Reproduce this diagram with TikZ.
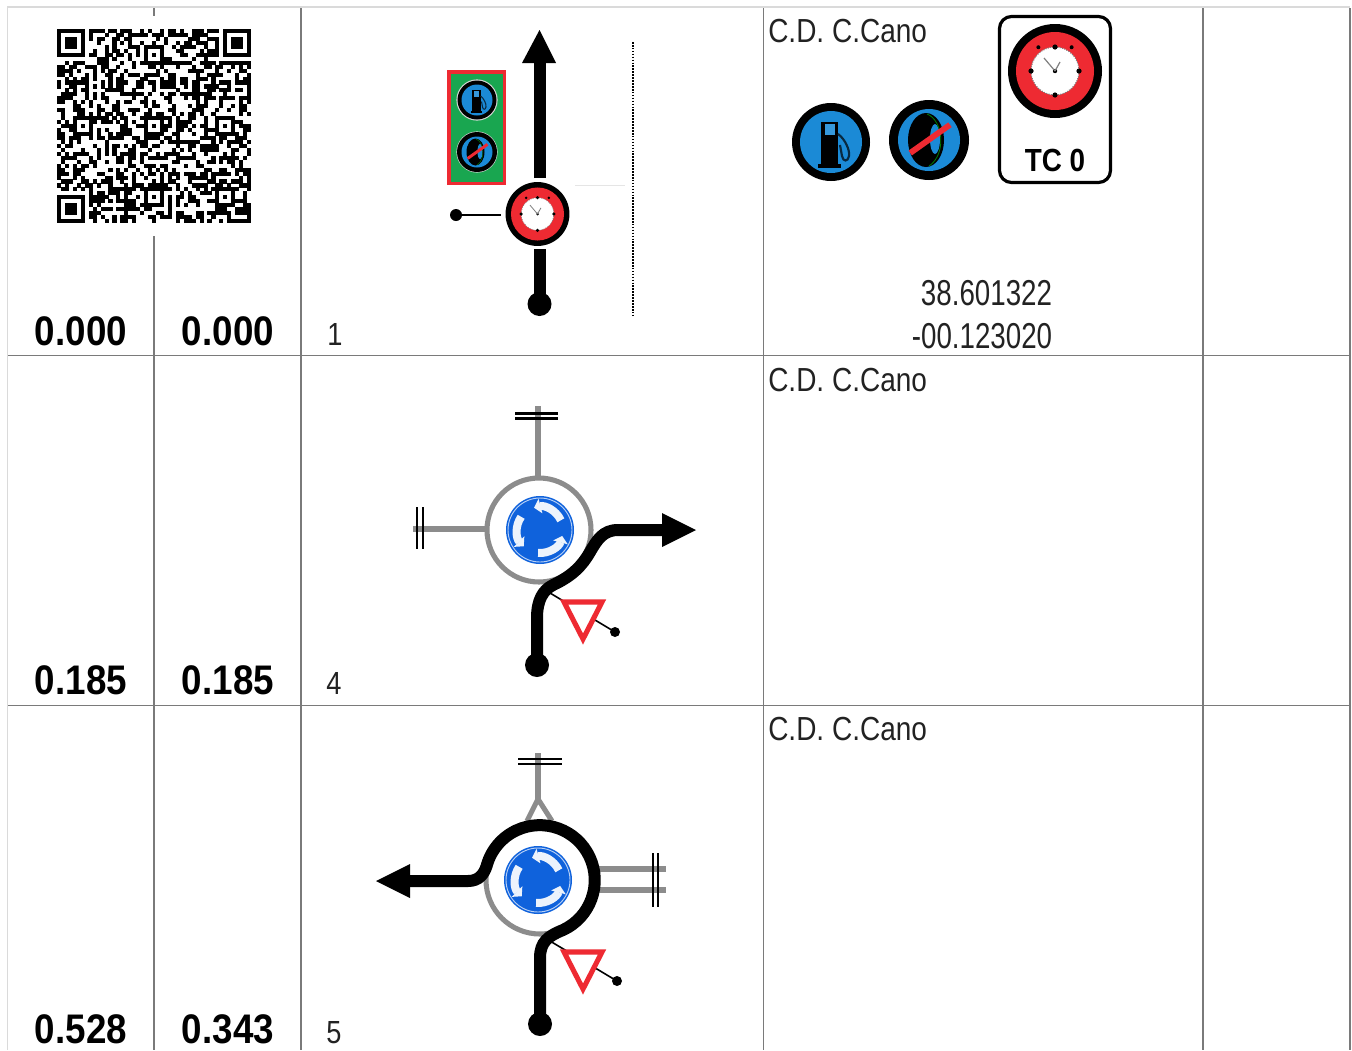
\documentclass[tikz,border=0pt]{standalone}
\usepackage{fontspec}
\setmainfont{Liberation Sans}
\usetikzlibrary{arrows.meta}
\definecolor{gridc}{HTML}{7A7A7A}
\definecolor{edgec}{HTML}{DADADA}
\definecolor{roadg}{HTML}{8C8C8C}
\definecolor{signblue}{HTML}{1B8AD6}
\definecolor{rbblue}{HTML}{0F62DC}
\definecolor{sred}{HTML}{EE2A32}
\definecolor{pgreen}{HTML}{19A650}
\definecolor{txt}{HTML}{222222}
\tikzset{
  cell/.style={draw=gridc,line width=0.8pt},
  edgeline/.style={draw=edgec,line width=1pt},
  road/.style={draw=black,line width=9pt},
  groad/.style={draw=roadg,line width=3.8pt},
  bar/.style={draw=black,line width=1.8pt},
  thin link/.style={draw=black,line width=1.2pt},
  lab/.style={anchor=base west,inner sep=0pt,text=txt},
  cen/.style={anchor=base,inner sep=0pt,text=txt},
  val/.style={anchor=base,inner sep=0pt,text=black},
}
\newcommand{\tcd}[1]{{\fontsize{25}{25}\selectfont\scalebox{.84}[1]{#1}}}
\newcommand{\tnum}[1]{{\fontsize{27}{27}\selectfont\scalebox{.77}[1]{#1}}}
\newcommand{\tbold}[1]{{\fontsize{31}{31}\selectfont\bfseries\scalebox{.89}[1]{#1}}}
\newcommand{\tidx}[1]{{\fontsize{24}{24}\selectfont\scalebox{.85}[1]{#1}}}
\newcommand{\qrsq}[4]{\fill[#4] ({57+(#1)*3.96},{29+(#2)*3.96}) rectangle ({57+(#1+#3)*3.96},{29+(#2+#3)*3.96});}
\newcommand{\qrfinder}[2]{\qrsq{#1-1}{#2-1}{9}{white}\qrsq{#1}{#2}{7}{black}\qrsq{#1+1}{#2+1}{5}{white}\qrsq{#1+2}{#2+2}{3}{black}}
\newcommand{\qralign}[2]{\qrsq{#1-2}{#2-2}{5}{black}\qrsq{#1-1}{#2-1}{3}{white}\qrsq{#1}{#2}{1}{black}}
\newcommand{\fuelsign}[3]{\begin{scope}[shift={(#1,#2)},scale=#3]
  \fill[black] (0,0) circle[radius=39];
  \fill[signblue] (0,0) circle[radius=31];
  \fill[black] (-10,-20) rectangle (7,23);
  \fill[black] (-13,22) rectangle (10,26);
  \fill[signblue!88!white] (-6,-18) rectangle (4,-7);
  \draw[black!70!signblue,line width=#3*1.6pt] (7,-8) .. controls (14,-3) and (19,8) .. (18,14) .. controls (17,20) and (12,20) .. (11,14) -- (9,3);
\end{scope}}
\newcommand{\tiresign}[3]{\begin{scope}[shift={(#1,#2)},scale=#3]
  \fill[black] (0,0) circle[radius=40];
  \fill[signblue] (0,0) circle[radius=31];
  \fill[black] (-3,0) ellipse[x radius=18,y radius=27];
  \fill[signblue] (6,-1) ellipse[x radius=5,y radius=15];
  \draw[green!50!black,line width=#3*0.6pt] (-2,-26) .. controls (14,-20) and (18,14) .. (0,26);
  \fill[sred] (-20.5,10.6) -- (19.3,-17.6) -- (22.7,-12.9) -- (-17.1,15.4) -- cycle;
\end{scope}}
\newcommand{\clocksign}[3]{\begin{scope}[shift={(#1,#2)},scale=#3]
  \fill[black] (0,0) circle[radius=47];
  \fill[sred] (0,0) circle[radius=39];
  \fill[white] (0,0) circle[radius=24];
  \draw[gray,densely dotted,line width=#3*0.8pt] (0,0) circle[radius=24];
  \foreach \a in {-90,0,90,180} {\fill[black] (\a:24) circle[radius=2.6];}
  \foreach \a in {-125,-55} {\fill[black] (\a:29) circle[radius=2];}
  \fill[black] (0,0) circle[radius=2.2];
  \draw[gray,line width=#3*0.9pt] (0,0) -- (-11,-13) (0,0) -- (5,-9);
\end{scope}}
\newcommand{\rbsign}[2]{\begin{scope}[shift={(#1,#2)}]
  \fill[rbblue] (0,0) circle[radius=34];
  \draw[white!70!rbblue,line width=0.7pt] (0,0) circle[radius=32];
  \foreach \a in {-25,-145,-265} {
    \pgfmathsetmacro{\sx}{23*cos(\a)}\pgfmathsetmacro{\sy}{23*sin(\a)}
    \draw[white!92!rbblue,line width=6pt,-{Triangle[length=5pt,width=11pt]}] (\sx,\sy) arc[start angle=\a,delta angle=-80,radius=23];
  }
\end{scope}}
\newcommand{\yieldsign}[2]{\draw[sred,fill=white,line width=3.8pt,line join=miter] (#1-19,#2) -- (#1+19,#2) -- (#1,#2+37) -- cycle;}
\begin{document}
\begin{tikzpicture}[x=0.75pt,y=-0.75pt]
\useasboundingbox (0,0) rectangle (1352,1050);
\fill[white] (0,0) rectangle (1352,1050);
% table rules
\draw[edgeline] (7,7) -- (1350,7);
\draw[edgeline] (7.5,7) -- (7.5,1050);
\draw[cell] (8,355.5) -- (1350,355.5);
\draw[cell] (8,705.5) -- (1350,705.5);
\draw[cell] (154,236) -- (154,1050);
\draw[cell] (154,8) -- (154,16);
\draw[cell] (301,8) -- (301,1050);
\draw[cell] (763.5,8) -- (763.5,1050);
\draw[cell] (1203,8) -- (1203,1050);
\draw[cell] (1350,8) -- (1350,1050);
% QR code
\pgfmathsetseed{2024}
\foreach \i in {0,...,48}{\foreach \j in {0,...,48}{%
  \pgfmathrandominteger{\b}{0}{99}%
  \ifnum\b<50 \qrsq{\i}{\j}{1.03}{black}\fi}}
\qrfinder{0}{0}\qrfinder{42}{0}\qrfinder{0}{42}
\fill[white] (50,22) rectangle (57,230);
\fill[white] (50,22) rectangle (258,29);
\fill[white] (251.04,22) rectangle (258,230);
\fill[white] (50,223.04) rectangle (258,230);
\qralign{24}{6}\qralign{6}{24}\qralign{24}{24}\qralign{42}{24}\qralign{24}{42}\qralign{42}{42}
% left column values
\node[val] (a1) at (81,345) {\tbold{0.000}};
\node[val] (b1) at (228,345) {\tbold{0.000}};
\node[val] (a2) at (81,694) {\tbold{0.185}};
\node[val] (b2) at (228,694) {\tbold{0.185}};
\node[val] (a3) at (81,1043) {\tbold{0.528}};
\node[val] (b3) at (228,1043) {\tbold{0.343}};
\node[lab] (n1) at (327,345) {\tidx{1}};
\node[lab] (n4) at (326,694) {\tidx{4}};
\node[lab] (n5) at (326,1043) {\tidx{5}};
\node[lab] (cd1) at (768,42) {\tcd{C.D. C.Cano}};
\node[lab] (cd2) at (768,391) {\tcd{C.D. C.Cano}};
\node[lab] (cd3) at (768,740) {\tcd{C.D. C.Cano}};
\node[cen] (lat) at (986.5,305) {\tnum{38.601322}};
\node[cen] (lon) at (982,348) {\tnum{-00.123020}};
% panel right, first row
\fuelsign{831}{142}{1}
\tiresign{929}{140}{1}
\draw[black,fill=white,line width=2.4pt,rounded corners=9pt] (999.5,16.5) rectangle (1110.5,182.5);
\clocksign{1055}{71}{1}
\node[val] (tc) at (1055,171) {{\fontsize{24}{24}\selectfont\bfseries\scalebox{.87}[1]{TC 0}}};
% row 1 sketch
\coordinate (s1a) at (539.5,304);
\coordinate (s1b) at (539.5,249);
\coordinate (s1c) at (539.5,178);
\coordinate (s1d) at (539.5,62);
\draw[draw=edgec!70,line width=0.7pt] (575,185) -- (625,185);
\draw[black,line width=1.2pt,densely dotted] (633,42) -- (633,316);
\draw[road] (s1a) -- (s1b);
\draw[road] (s1c) -- (s1d);
\fill[black] (s1a) circle[radius=12];
\fill[black] (539.5,30) -- (556,63) -- (522,63) -- cycle;
\draw[draw=sred,fill=pgreen,line width=2.6pt] (449,72) rectangle (504.5,183.5);
\fill[white!85!black] (477,100) circle[radius=20.6];
\fuelsign{477}{100}{0.5}
\fill[white!85!black] (477,152) circle[radius=20.6];
\tiresign{477}{152}{0.5}
\clocksign{537.5}{214}{0.68}
\coordinate (d1) at (456,215);
\fill[black] (d1) circle[radius=6];
\draw[thin link] (d1) -- (501,215);
% row 2 sketch
\coordinate (c2) at (539,530);
\draw[groad] (538,476) -- (538,406);
\draw[bar] (515,413.5) -- (558,413.5);
\draw[bar] (515,418.5) -- (558,418.5);
\draw[groad] (485,529) -- (413,529);
\draw[bar] (417,507) -- (417,549);
\draw[bar] (423,507) -- (423,549);
\draw[groad] (c2) circle[radius=52];
\rbsign{540}{530}
\coordinate (d2) at (615,632);
\draw[thin link] (550,593) -- (d2);
\fill[black] (d2) circle[radius=5];
\yieldsign{583}{602}
\coordinate (r2a) at (537,665);
\draw[road,line cap=butt] (r2a) -- (537,618) .. controls (537,600) and (543,590) .. (553,585) .. controls (572,576) and (582,566) .. (590,552) .. controls (597,540) and (603,530) .. (618,530) -- (664,530);
\fill[black] (r2a) circle[radius=12];
\fill[black] (696,530) -- (662,513) -- (662,547) -- cycle;
% row 3 sketch
\coordinate (c3) at (540,880);
\draw[groad] (538,753) -- (538,799);
\draw[groad] (527,821) -- (538,799) -- (552,821);
\draw[bar] (518,759) -- (562,759);
\draw[bar] (518,764) -- (562,764);
\draw[groad,line width=4.4pt] (598,869) -- (666,869);
\draw[groad,line width=4.4pt] (598,890) -- (666,890);
\draw[bar] (653,853) -- (653,907);
\draw[bar] (658,853) -- (658,907);
\draw[groad] (c3) circle[radius=54];
\rbsign{538}{880}
\coordinate (d3) at (617,981);
\draw[thin link] (550,941) -- (d3);
\fill[black] (d3) circle[radius=5];
\yieldsign{583}{952}
\coordinate (r3a) at (540,1024);
\draw[road,line cap=butt] (r3a) -- (540,958) .. controls (540,942) and (548,936) .. (563,930) arc[start angle=65,end angle=-165,radius=55] .. controls (484,874) and (479,881) .. (468,881) -- (408,881);
\fill[black] (r3a) circle[radius=12];
\fill[black] (376,881) -- (410,864) -- (410,898) -- cycle;
\end{tikzpicture}
\end{document}
